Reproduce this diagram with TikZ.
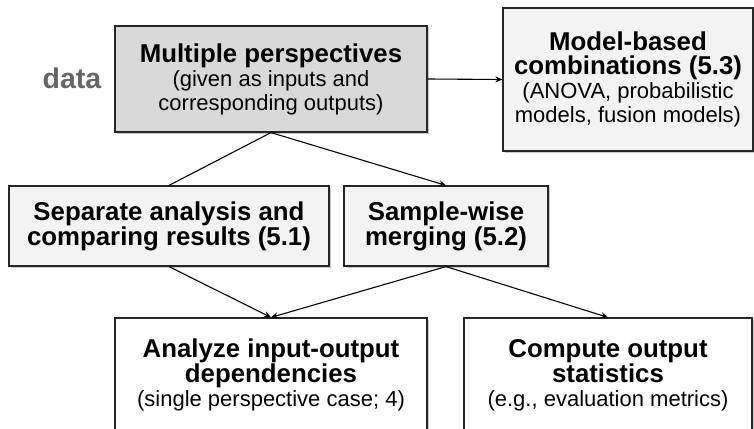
\documentclass[tikz,border=0pt]{standalone}
\usepackage{fontspec}
\setmainfont{Liberation Sans}
\usetikzlibrary{arrows.meta}
\usetikzlibrary{shadows}

\definecolor{boxgray}{HTML}{D9D9D9}
\definecolor{boxlight}{HTML}{F3F3F3}
\definecolor{labelgray}{HTML}{666666}

\newcommand{\boxhead}[1]{{\fontsize{25.8}{25}\selectfont\bfseries #1}}
\newcommand{\boxnote}[1]{{\fontsize{22}{24}\selectfont #1}}

\tikzset{
  box/.style={draw=black!85, line width=1.2pt, align=center, inner sep=0pt,
    font=\fontsize{22}{24}\selectfont,
    drop shadow={shadow xshift=1.5pt, shadow yshift=-1.5pt, fill=black!45, opacity=0.45}},
  link/.style={line width=1.1pt},
  flow/.style={link, -{Stealth[length=7pt,width=6pt]}}
}

\begin{document}
\begin{tikzpicture}[x=1pt, y=-1pt]
		\useasboundingbox (0,0) rectangle (754,428);
		\clip (0,0) rectangle (754,428);
		% top row
		\node [labelgray, font=\fontsize{28.5}{30}\selectfont\bfseries] (data) at (72,78) {data};
		\node [box, fill=boxgray, minimum width=312pt, minimum height=106pt] (persp) at (271,79)
			{\boxhead{Multiple perspectives}\\ \boxnote{(given as inputs and}\\ \boxnote{corresponding outputs)}};
		\node [box, fill=boxlight, minimum width=250pt, minimum height=143pt] (model) at (628,79.5)
			{\boxhead{Model-based}\\ \boxhead{combinations (5.3)}\\ \boxnote{(ANOVA, probabilistic}\\ \boxnote{models, fusion models)}};
		% middle row
		\node [box, fill=boxlight, minimum width=320pt, minimum height=80pt] (separate) at (169,226)
			{\boxhead{Separate analysis and}\\ \boxhead{comparing results (5.1)}};
		\node [box, fill=boxlight, minimum width=204pt, minimum height=80pt] (sample) at (446,226)
			{\boxhead{Sample-wise}\\ \boxhead{merging (5.2)}};
		% bottom row
		\node [box, fill=white, minimum width=312pt, minimum height=114pt] (analyze) at (271,375)
			{\boxhead{Analyze input-output}\\ \boxhead{dependencies}\\ \boxnote{(single perspective case; 4)}};
		\node [box, fill=white, minimum width=288pt, minimum height=114pt] (compute) at (608,375)
			{\boxhead{Compute output}\\ \boxhead{statistics}\\ \boxnote{(e.g., evaluation metrics)}};
		% connectors
		\draw[flow] (persp.east) -- (model.west);
		\draw[link] (persp.south) -- (separate.north);
		\draw[flow] (persp.south) -- (sample.north);
		\draw[flow] (separate.south) -- (analyze.north);
		\draw[flow] (sample.south) -- (analyze.north);
		\draw[flow] (sample.south) -- (compute.north);
		\end{tikzpicture}
\end{document}
